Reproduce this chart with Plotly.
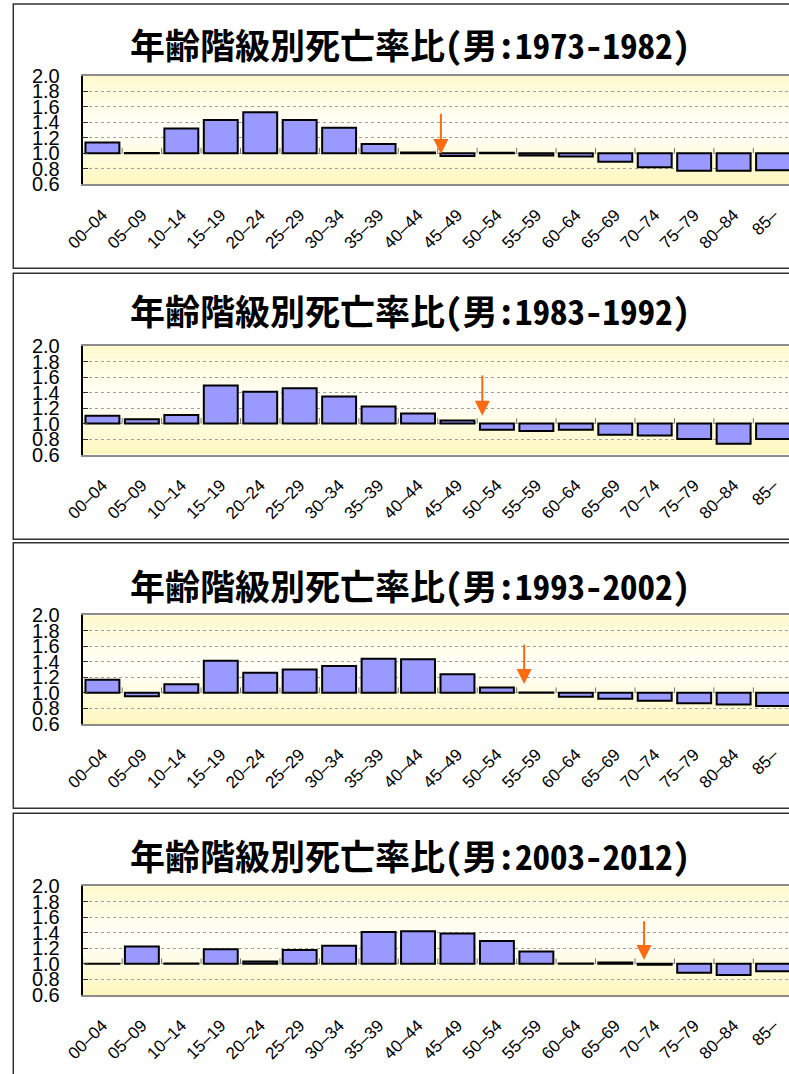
import plotly.graph_objects as go

# ---------------- data ----------------
categories = ["00–04", "05–09", "10–14", "15–19", "20–24", "25–29", "30–34",
              "35–39", "40–44", "45–49", "50–54", "55–59", "60–64", "65–69",
              "70–74", "75–79", "80–84", "85–"]

periods = ["1973-1982", "1983-1992", "1993-2002", "2003-2012"]

ratio_1973_1982 = [1.14, 1.005, 1.32, 1.43, 1.53, 1.43, 1.33, 1.12, 1.01, 0.965,
                   1.008, 0.97, 0.957, 0.89, 0.82, 0.775, 0.775, 0.78]
ratio_1983_1992 = [1.10, 1.055, 1.11, 1.49, 1.41, 1.455, 1.35, 1.22, 1.13, 1.04,
                   0.92, 0.905, 0.92, 0.855, 0.845, 0.80, 0.74, 0.80]
ratio_1993_2002 = [1.17, 0.955, 1.11, 1.415, 1.26, 1.30, 1.345, 1.44, 1.435, 1.24,
                   1.07, 1.005, 0.95, 0.925, 0.90, 0.865, 0.85, 0.83]
ratio_2003_2012 = [1.003, 1.225, 1.005, 1.19, 1.03, 1.18, 1.235, 1.41, 1.42, 1.39,
                   1.295, 1.16, 1.005, 1.017, 0.99, 0.885, 0.855, 0.905]

series = [ratio_1973_1982, ratio_1983_1992, ratio_1993_2002, ratio_2003_2012]

y_ticks = [0.6, 0.8, 1.0, 1.2, 1.4, 1.6, 1.8, 2.0]
y_tick_labels = ["0.6", "0.8", "1.0", "1.2", "1.4", "1.6", "1.8", "2.0"]

# arrow markers (category position, tail value, tip value)
arrow_x = [8.58, 9.63, 10.69, 13.73]
arrow_tail = [1.53, 1.64, 1.64, 1.57]
arrow_tip = [0.99, 1.10, 1.115, 1.05]

# ---------------- layout geometry ----------------
W, H = 789, 1074
plot_left = 82.7
cat_w = 39.45
plot_tops = [75.7, 346.0, 615.3, 886.3]
plot_h = 108.6
frame_tops = [4.0, 273.3, 542.7, 813.3]
frame_bottoms = [268.3, 539.3, 808.3, 1095.0]
title_y = [44, 309, 584, 854]
title_x = 410

x_range = [-0.5, -0.5 + (W - plot_left) / cat_w]

BAR_COLOR = "#9999ff"
ARROW_COLOR = "#ff6a13"


def bg_color(v):
    stops = [(0.6, (255, 246, 186)), (0.8, (255, 250, 205)), (1.3, (255, 255, 250)),
             (1.6, (255, 254, 232)), (2.0, (255, 249, 204))]
    for (a, ca), (b, cb) in zip(stops[:-1], stops[1:]):
        if a <= v <= b:
            t = (v - a) / (b - a)
            c = [round(ca[k] + (cb[k] - ca[k]) * t) for k in range(3)]
            return f"rgb({c[0]},{c[1]},{c[2]})"
    return "white"


fig = go.Figure()
shapes = []
annotations = []

for i, (vals, period) in enumerate(zip(series, periods)):
    n = i + 1
    xa = "x" if n == 1 else f"x{n}"
    ya = "y" if n == 1 else f"y{n}"

    fig.add_trace(go.Bar(
        x=categories,
        y=[v - 1.0 for v in vals],
        base=1.0,
        marker=dict(color=BAR_COLOR, line=dict(color="black", width=2)),
        xaxis=xa, yaxis=ya,
        hoverinfo="skip",
    ))

    top = plot_tops[i]
    fig.layout[f"xaxis{'' if n == 1 else n}"] = dict(
        domain=[plot_left / W, 1.0],
        anchor=ya,
        type="category",
        categoryorder="array",
        categoryarray=categories,
        range=x_range,
        showline=True, mirror=True, linecolor="#8c8c8c", linewidth=2,
        ticks="", showgrid=False, zeroline=False,
        tickangle=-45,
        tickfont=dict(family="Liberation Sans, Arial", size=17, color="black"),
        ticklabelstandoff=12,
        automargin=False,
        fixedrange=True,
    )
    fig.layout[f"yaxis{'' if n == 1 else n}"] = dict(
        domain=[1 - (top + plot_h) / H, 1 - top / H],
        anchor=xa,
        range=[0.6, 2.0],
        tickvals=y_ticks, ticktext=y_tick_labels,
        showline=True, linecolor="black", linewidth=2,
        ticks="inside", ticklen=5, tickcolor="#333333", tickwidth=1,
        showgrid=True, gridcolor="#a0a0a0", griddash="dot", gridwidth=1,
        zeroline=False,
        tickfont=dict(family="Liberation Sans, Arial", size=20, color="black"),
        ticklabelstandoff=17,
        automargin=False,
        fixedrange=True,
    )

    # gradient background bands
    nb = 40
    for k in range(nb):
        y0 = 0.6 + 1.4 * k / nb
        y1 = 0.6 + 1.4 * (k + 1) / nb
        shapes.append(dict(type="rect", xref=f"{xa} domain", yref=ya,
                           x0=0, x1=1, y0=y0, y1=y1 + 0.002,
                           fillcolor=bg_color((y0 + y1) / 2),
                           line=dict(width=0), layer="below"))

    # small category boundary ticks on the 1.0 line
    for k in range(len(categories) + 1):
        shapes.append(dict(type="line", xref=xa, yref=ya,
                           x0=k - 0.5, x1=k - 0.5, y0=1.0, y1=1.07,
                           line=dict(color="#707070", width=1), layer="between"))

    # panel frame
    shapes.append(dict(type="rect", xref="paper", yref="paper",
                       x0=13.3 / W, x1=1.05,
                       y0=1 - frame_bottoms[i] / H, y1=1 - frame_tops[i] / H,
                       line=dict(color="#333333", width=1.5), fillcolor="rgba(0,0,0,0)",
                       layer="above"))

    # title
    annotations.append(dict(
        xref="paper", yref="paper", x=title_x / W, y=1 - title_y[i] / H,
        xanchor="center", yanchor="middle", showarrow=False,
        text=f"年齢階級別死亡率比(男:{period})",
        font=dict(family="Noto Sans Mono CJK JP, Noto Sans CJK JP", size=35,
                  color="black", weight="bold"),
    ))

    # orange arrow
    annotations.append(dict(
        xref=xa, yref=ya, axref=xa, ayref=ya,
        x=arrow_x[i], y=arrow_tip[i], ax=arrow_x[i], ay=arrow_tail[i],
        text="", showarrow=True, arrowhead=2, arrowsize=1.5, arrowwidth=2,
        arrowcolor=ARROW_COLOR, standoff=0, startstandoff=0,
    ))

fig.update_layout(
    width=W, height=H,
    margin=dict(l=0, r=0, t=0, b=0, pad=0, autoexpand=False),
    paper_bgcolor="white", plot_bgcolor="white",
    showlegend=False, bargap=0.14,
    shapes=shapes, annotations=annotations,
    hovermode=False,
)

fig.write_html("out.html", config={"displayModeBar": False},
               post_script="document.body.style.margin='0';document.body.style.overflow='hidden';")
